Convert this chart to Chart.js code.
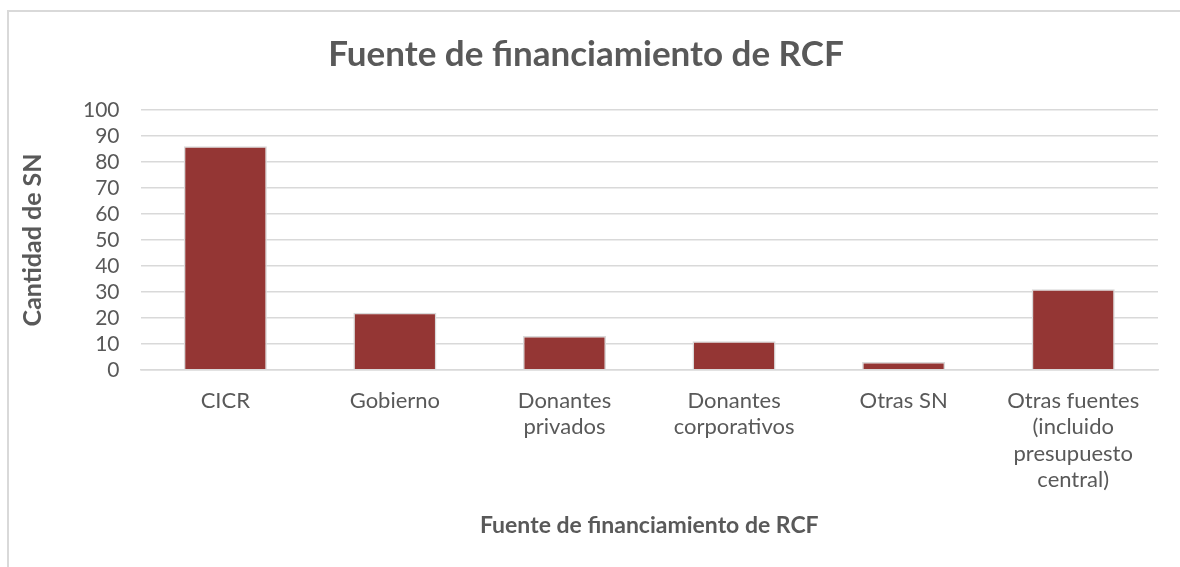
<!DOCTYPE html>
<html>
<head>
<meta charset="utf-8">
<script src="https://cdn.jsdelivr.net/npm/chart.js@4.4.0/dist/chart.umd.min.js"></script>
<style>
    html, body { margin: 0; padding: 0; background: #fff; overflow: hidden; }
    #frame { position: absolute; left: 7px; top: 10px; width: 1190px; height: 580px; border: 2px solid #d9d9d9; box-sizing: border-box; }
    #wrap { position: absolute; left: 0; top: 0; width: 1180px; height: 567px; }
</style>
</head>
<body>
<div id="frame"></div>
<div id="wrap"><canvas id="fuenteChart"></canvas></div>
<script>
    const categorias = [
        'CICR',
        'Gobierno',
        ['Donantes', 'privados'],
        ['Donantes', 'corporativos'],
        'Otras SN',
        ['Otras fuentes', '(incluido', 'presupuesto', 'central)']
    ];
    const cantidadSN = [86, 22, 13, 11, 3, 31];

    const fuente = "Lato, 'Open Sans', sans-serif";
    const gris = '#595959';

    new Chart(document.getElementById('fuenteChart').getContext('2d'), {
        type: 'bar',
        data: {
            labels: categorias,
            datasets: [{
                data: cantidadSN,
                backgroundColor: '#943634',
                borderColor: '#d9d9d9',
                borderWidth: 1.5,
                barPercentage: 0.49,
                categoryPercentage: 1
            }]
        },
        options: {
            responsive: true,
            maintainAspectRatio: false,
            animation: false,
            layout: { padding: { left: 14, right: 22, top: 34, bottom: 24 } },
            plugins: {
                legend: { display: false },
                tooltip: { enabled: false },
                title: {
                    display: true,
                    text: 'Fuente de financiamiento de RCF',
                    color: gris,
                    font: { family: fuente, size: 35, weight: 'bold', lineHeight: 1.2 },
                    padding: { top: 0, bottom: 34 }
                }
            },
            scales: {
                y: {
                    min: 0, max: 100,
                    ticks: { stepSize: 10, autoSkip: false, color: gris, font: { family: fuente, size: 21 }, padding: 21 },
                    grid: { color: '#d9d9d9', lineWidth: 1.5, drawTicks: false },
                    border: { display: false },
                    title: { display: true, text: 'Cantidad de SN', color: gris, font: { family: fuente, size: 25, weight: 'bold' }, padding: { top: 4, bottom: 14 } }
                },
                x: {
                    ticks: { color: gris, font: { family: fuente, size: 22, lineHeight: 1.2 }, padding: 10, maxRotation: 0 },
                    grid: { display: false },
                    border: { color: '#d9d9d9', width: 1.5 },
                    title: { display: true, text: 'Fuente de financiamiento de RCF', color: gris, font: { family: fuente, size: 23, weight: 'bold' }, padding: { top: 8 } }
                }
            }
        }
    });
</script>
</body>
</html>
